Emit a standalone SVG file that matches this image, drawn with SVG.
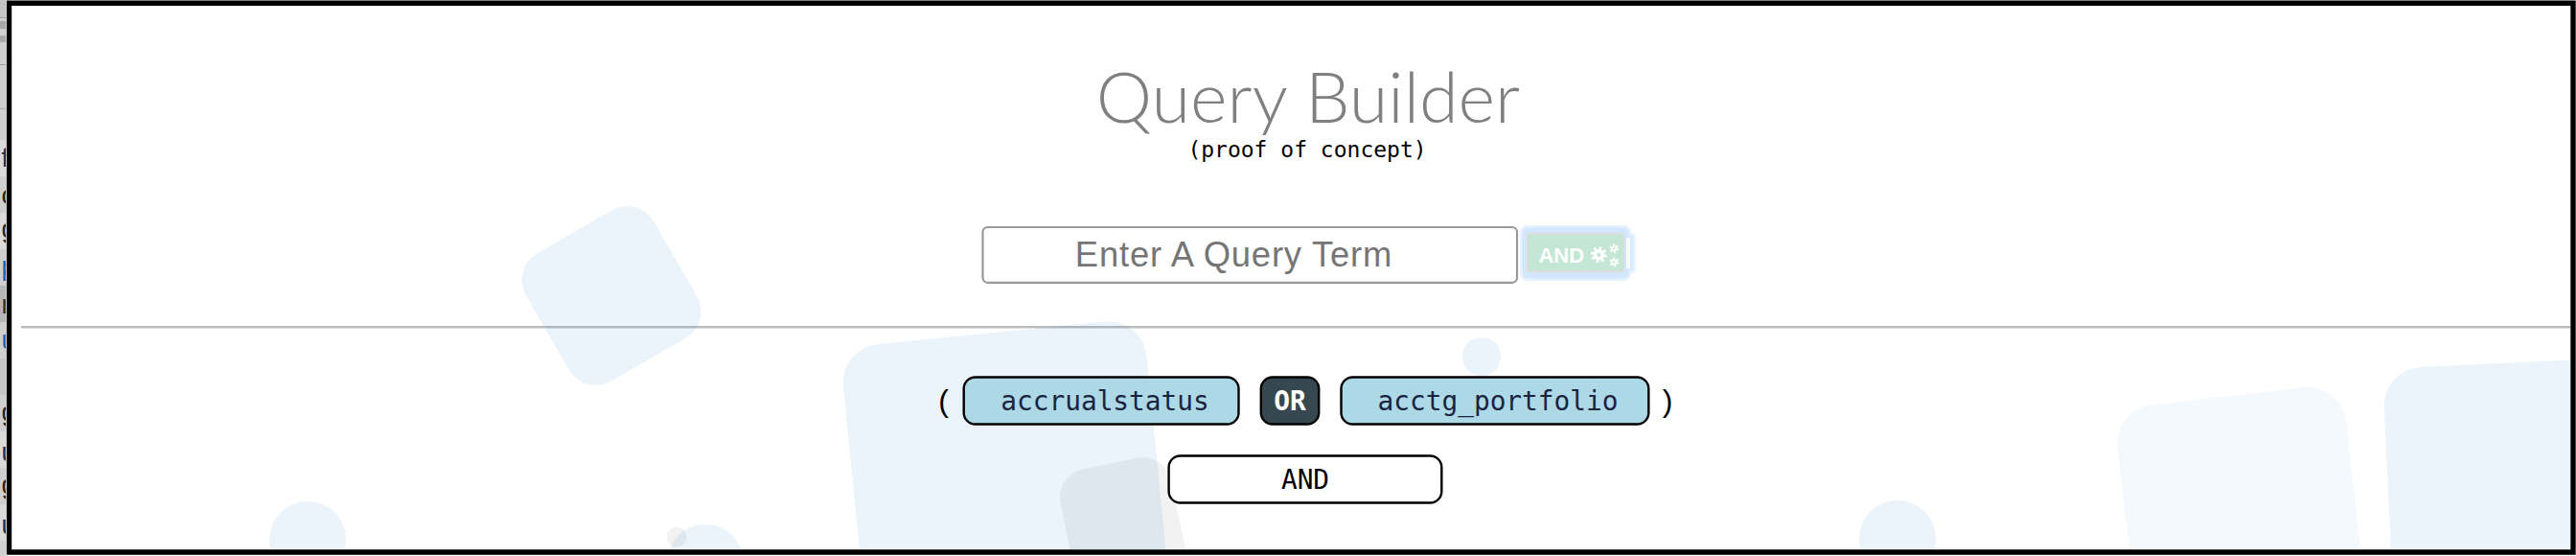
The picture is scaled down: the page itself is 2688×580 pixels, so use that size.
<svg xmlns="http://www.w3.org/2000/svg" width="2688" height="580" viewBox="0 0 2688 580">
<style>
.blob{fill:#2a85d5;opacity:.095}
.pale{fill:#2a85d5;opacity:.05}
.grey{fill:#000;opacity:.05}
.chip{fill:#add8e6;stroke:#000;stroke-width:2.4}
.mono{font-family:"DejaVu Sans Mono","Liberation Mono",monospace;font-size:27.8px;text-anchor:middle}
.paren{font-family:"Liberation Sans",sans-serif;font-size:32px;text-anchor:middle;fill:#000}
.frag{font-family:"Liberation Sans",sans-serif;font-size:27px}
.gear{fill:none;stroke:#fff}
</style>
<defs>
<clipPath id="inner"><rect x="12" y="5" width="2670" height="568"/></clipPath>
<clipPath id="strip"><rect x="0" y="0" width="6" height="580"/></clipPath>
</defs>
<rect width="2688" height="580" fill="#fff"/>
<g id="side-strip" clip-path="url(#strip)">
<rect width="6" height="580" fill="#cfcfcf"/>
<rect y="0" width="6" height="18" fill="#c4c4c4"/>
<rect y="18" width="6" height="1" fill="#9a9a9a"/>
<rect y="22" width="6" height="8" fill="#a8a8a8"/>
<rect y="37" width="6" height="7" fill="#a8a8a8"/>
<rect y="67" width="6" height="1" fill="#9a9a9a"/>
<rect y="113" width="6" height="1" fill="#aaa"/>
<rect y="146" width="6" height="38" fill="#dadada"/>
<rect y="222" width="6" height="38" fill="#dadada"/>
<rect y="298" width="6" height="38" fill="#b6b6b6"/>
<rect y="374" width="6" height="38" fill="#c4c4c4"/>
<rect y="450" width="6" height="38" fill="#dadada"/>
<rect y="526" width="6" height="38" fill="#dadada"/>
<text class="frag" x="1.5" y="174" fill="#1c2b4a">f</text>
<text class="frag" x="1.5" y="213" fill="#222">c</text>
<text class="frag" x="1.5" y="248" fill="#222">g</text>
<text class="frag" x="1.5" y="287" fill="#1f5fae">p</text>
<text class="frag" x="1.5" y="327" fill="#3a2a18">n</text>
<text class="frag" x="1.5" y="364" fill="#1f5fae">u</text>
<text class="frag" x="1.5" y="439" fill="#222">g</text>
<text class="frag" x="1.5" y="481" fill="#1c2b4a">u</text>
<text class="frag" x="1.5" y="515" fill="#222">g</text>
<text class="frag" x="1.5" y="557" fill="#1c2b4a">u</text>
</g>
<g id="frame-content" clip-path="url(#inner)">
<rect x="22" y="340" width="2660" height="2.4" fill="#bbb"/>
<circle class="blob" cx="321" cy="563" r="40"/>
<circle class="blob" cx="736" cy="587" r="40"/>
<circle class="grey" cx="706" cy="560" r="10.5"/>
<circle class="blob" cx="1546" cy="372" r="20"/>
<circle class="blob" cx="1980" cy="562" r="40"/>
<rect class="blob" x="-77" y="-77" width="154" height="154" rx="32" transform="translate(638 308.5) rotate(-30)"/>
<rect class="blob" width="318" height="400" rx="40" transform="translate(876 363) rotate(-5.7)"/>
<rect class="grey" width="118" height="200" rx="30" transform="translate(1100.5 495.6) rotate(-11.7)"/>
<rect class="pale" width="240" height="300" rx="40" transform="translate(2205 427) rotate(-6.5)"/>
<rect class="blob" width="400" height="300" rx="40" transform="translate(2485.8 385) rotate(-2.8)"/>
</g>
<path d="M9.5 3.2H2685V576H9.5Z" fill="none" stroke="#000" stroke-width="5.4"/>
<g id="title"><text x="1365" y="127.7" text-anchor="middle" font-family="Lato,'Open Sans',sans-serif" font-weight="300" font-size="73.8" fill="#808080">Query Builder</text></g>
<g id="subtitle"><text x="1364" y="164" text-anchor="middle" font-family="'DejaVu Sans Mono',monospace" font-size="23" fill="#000">(proof of concept)</text></g>
<g id="query-input"><rect x="1025.5" y="237" width="557.5" height="57.8" rx="5" fill="#fff" stroke="#999" stroke-width="2.2"/>
<text x="1287.5" y="278" text-anchor="middle" font-family="'Liberation Sans',sans-serif" font-size="36.4" letter-spacing=".8" fill="#757575">Enter A Query Term</text></g>
<g id="and-button">
<rect x="1696" y="243" width="11" height="42" rx="4" fill="#eaf3fe"/>
<rect x="1586" y="235" width="116" height="58" rx="8" fill="#e6f1fe"/>
<rect x="1588.5" y="237.5" width="111" height="53" rx="6" fill="#d2e6fd"/>
<rect x="1699.5" y="245" width="5" height="38" rx="2" fill="#dcebfd"/>
<rect x="1697" y="248" width="4" height="32" fill="#f6faff"/>
<rect x="1594" y="244" width="100" height="39" rx="2" fill="#c3e6d5" stroke="#dcdcdc" stroke-width="2"/>
<text x="1629.3" y="273.7" text-anchor="middle" font-family="'Liberation Sans',sans-serif" font-weight="700" font-size="22" fill="#fff">AND</text>
<circle class="gear" cx="1668.3" cy="265.7" r="4" stroke-width="3.6"/>
<circle class="gear" cx="1668.3" cy="265.7" r="7" stroke-width="3" stroke-dasharray="2.75 2.75"/>
<circle class="gear" cx="1684.3" cy="259.3" r="2.2" stroke-width="1.8"/>
<circle class="gear" cx="1684.3" cy="259.3" r="4" stroke-width="1.8" stroke-dasharray="2.1 2.1"/>
<circle class="gear" cx="1684.3" cy="273.3" r="2.2" stroke-width="1.8"/>
<circle class="gear" cx="1684.3" cy="273.3" r="4" stroke-width="1.8" stroke-dasharray="2.1 2.1"/>
</g>
<g id="open-paren"><text x="984.5" y="428.5" class="paren">(</text></g>
<g id="chip-accrualstatus"><rect class="chip" x="1005.7" y="393.5" width="286.8" height="49" rx="12"/><text class="mono" x="1153" y="428.3" fill="#1a2340">accrualstatus</text></g>
<g id="chip-or"><rect x="1315.8" y="393.5" width="60.4" height="49" rx="12" fill="#37474f" stroke="#000" stroke-width="2.4"/><text class="mono" x="1346" y="428.3" fill="#fff" font-weight="700">OR</text></g>
<g id="chip-acctg"><rect class="chip" x="1399.5" y="393.5" width="320.8" height="49" rx="12"/><text class="mono" x="1563" y="428.3" fill="#1a2340">acctg_portfolio</text></g>
<g id="close-paren"><text x="1740" y="428.5" class="paren">)</text></g>
<g id="and-operator"><rect x="1219.6" y="475.5" width="284.7" height="49" rx="12" fill="#fff" stroke="#000" stroke-width="2.4"/><text class="mono" x="1362" y="510" fill="#000">AND</text></g>
<g id="connectors"></g>
</svg>
